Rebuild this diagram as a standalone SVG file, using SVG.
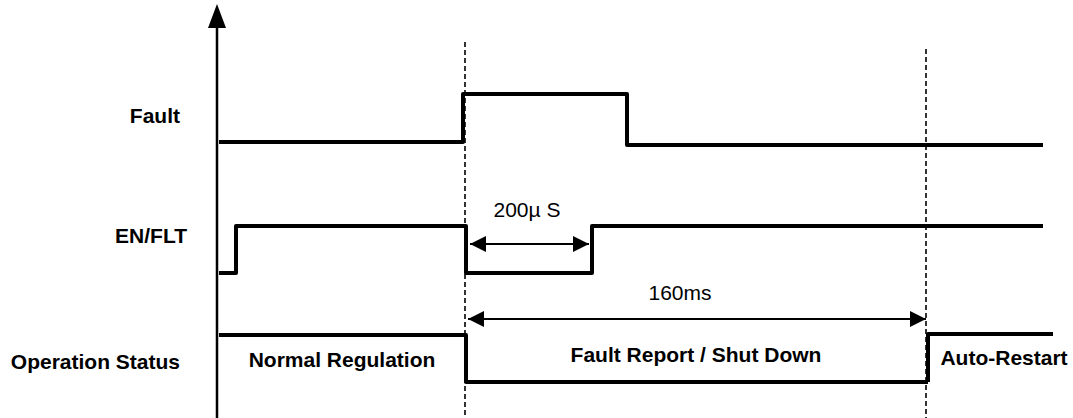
<svg xmlns="http://www.w3.org/2000/svg" width="1073" height="418" viewBox="0 0 1073 418">
<defs>
<marker id="ah" viewBox="0 0 16 16" refX="16" refY="8" markerWidth="16" markerHeight="16" markerUnits="userSpaceOnUse" orient="auto-start-reverse">
<path d="M0,0 L16,8 L0,16 Z" fill="#000"/>
</marker>
</defs>
<style>
.sig{fill:none;stroke:#000;stroke-width:4;stroke-linejoin:round}
.dash{fill:none;stroke:#000;stroke-width:1.6;stroke-dasharray:5,3}
.dim{fill:none;stroke:#000;stroke-width:2.2}
.lbl{font-family:"Liberation Sans",Arial,sans-serif;font-weight:bold;font-size:21px;fill:#000}
.reg{font-family:"Liberation Sans",Arial,sans-serif;font-size:21px;fill:#000}
</style>
<rect width="1073" height="418" fill="#fff"/>
<g id="axis">
<line x1="217" y1="26" x2="217" y2="418" stroke="#000" stroke-width="2.5"/>
<path d="M217,4 L226,28 L208,28 Z" fill="#000"/>
</g>
<g id="guides">
<line class="dash" x1="465" y1="42" x2="465" y2="418"/>
<line class="dash" x1="926" y1="49" x2="926" y2="418"/>
</g>
<g id="fault">
<text class="lbl" x="180" y="123" text-anchor="end">Fault</text>
<path class="sig" d="M219,142 L463,142 L463,94 L627,94 L627,145 L1043,145"/>
</g>
<g id="enflt">
<text class="lbl" x="187" y="243" text-anchor="end">EN/FLT</text>
<path class="sig" d="M219,273 L236,273 L236,226 L466,226 L466,273 L592,273 L592,226 L1043,226"/>
</g>
<g id="status">
<text class="lbl" x="180" y="369" text-anchor="end">Operation Status</text>
<path class="sig" d="M219,335 L466,335 L466,382 L928,382"/>
<path class="sig" d="M928,382 L928,334 L1053,334"/>
<text class="lbl" x="342" y="367" text-anchor="middle">Normal Regulation</text>
<text class="lbl" x="696" y="362" text-anchor="middle">Fault Report / Shut Down</text>
<text class="lbl" x="1004" y="365" text-anchor="middle">Auto-Restart</text>
</g>
<g id="connectors">
<line class="dim" x1="470" y1="244" x2="589" y2="244" marker-start="url(#ah)" marker-end="url(#ah)"/>
<text class="reg" x="527" y="217" text-anchor="middle">200µ S</text>
<line class="dim" x1="468" y1="319" x2="926" y2="319" marker-start="url(#ah)" marker-end="url(#ah)"/>
<text class="reg" x="680" y="300" text-anchor="middle">160ms</text>
</g>
</svg>
